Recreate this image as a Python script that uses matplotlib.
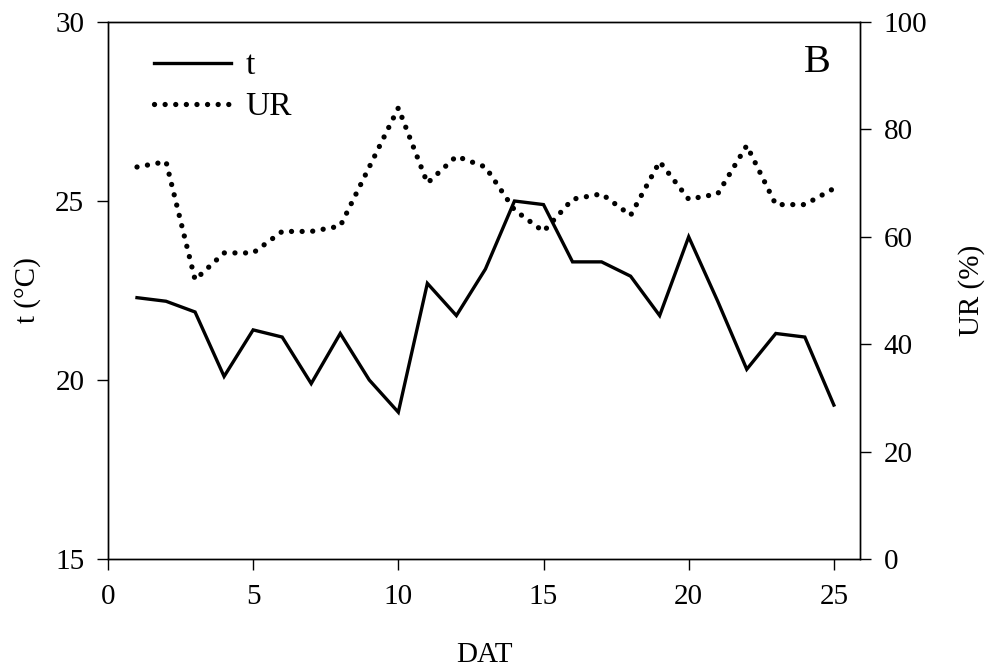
import matplotlib
matplotlib.use("Agg")
import matplotlib.pyplot as plt

plt.rcParams['font.family'] = ['Liberation Serif', 'DejaVu Serif']

# days after transplanting
dat = [1, 2, 3, 4, 5, 6, 7, 8, 9, 10, 11, 12, 13,
       14, 15, 16, 17, 18, 19, 20, 21, 22, 23, 24, 25]
# mean air temperature (°C)
temp = [22.3, 22.2, 21.9, 20.1, 21.4, 21.2, 19.9, 21.3, 20.0, 19.1, 22.7, 21.8, 23.1,
        25.0, 24.9, 23.3, 23.3, 22.9, 21.8, 24.0, 22.2, 20.3, 21.3, 21.2, 19.3]
# relative humidity (%)
rh = [73, 74, 52, 57, 57, 61, 61, 62, 73, 84, 70, 75, 73,
      65, 61, 67, 68, 64, 74, 67, 68, 77, 66, 66, 69]

x_ticks = [0, 5, 10, 15, 20, 25]
t_ticks = [15, 20, 25, 30]
rh_ticks = [0, 20, 40, 60, 80, 100]

fig = plt.figure(figsize=(9.85, 6.69), dpi=100)
ax = fig.add_axes([0.1096, 0.1644, 0.7635, 0.8027])
ax2 = ax.twinx()

l1, = ax.plot(dat, temp, color='black', lw=2.4, solid_joinstyle='miter', label='t')
l2, = ax2.plot(dat, rh, color='black', lw=3.8, linestyle=(0, (0.01, 2.0)),
               dash_capstyle='round', label='UR')

ax.set_xlim(0, 25.9)
ax.set_ylim(15, 30)
ax2.set_ylim(0, 100)
ax.set_xticks(x_ticks)
ax.set_yticks(t_ticks)
ax2.set_yticks(rh_ticks)

for a in (ax, ax2):
    a.tick_params(direction='out', length=8, width=1, labelsize=21, pad=9)
    for s in a.spines.values():
        s.set_linewidth(1)
ax.tick_params(axis='x', pad=10)

ax.set_xlabel('DAT', fontsize=21, labelpad=23)
ax.set_ylabel('t (°C)', fontsize=21, labelpad=10)
ax2.set_ylabel('UR (%)', fontsize=21, labelpad=22)

ax.legend(handles=[l1, l2], loc='upper left', frameon=False, fontsize=24,
          handlelength=2.3, handletextpad=0.45, labelspacing=0.32,
          borderaxespad=0.3, bbox_to_anchor=(0.03, 0.99))
ax.text(0.943, 0.925, 'B', transform=ax.transAxes, fontsize=29,
        ha='center', va='center')

fig.savefig('out.png', dpi=100)
